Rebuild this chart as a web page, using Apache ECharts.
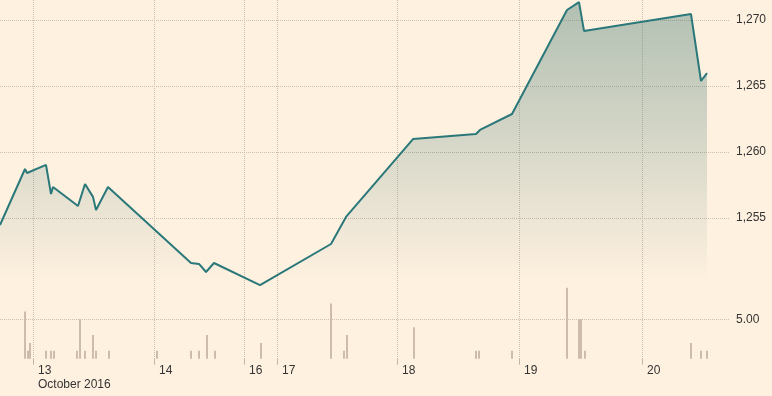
<!DOCTYPE html>
<html>
<head>
<meta charset="utf-8">
<script src="https://cdn.jsdelivr.net/npm/echarts@6/dist/echarts.min.js"></script>
<style>
html,body{margin:0;padding:0;background:#fff1e0;}
#chart{width:772px;height:396px;}
</style>
</head>
<body>
<div id="chart"></div>
<script>
// time index along the (compressed) trading-time axis
const priceTime = [0, 25, 27, 46, 51, 53, 78, 85, 93, 96, 108, 191, 199, 206, 214, 260, 331, 346, 413, 476, 480, 512, 567, 579, 584, 691, 701, 707];
const priceValues = [1254.47, 1258.71, 1258.41, 1259.02, 1256.82, 1257.35, 1255.91, 1257.58, 1256.6, 1255.6, 1257.35, 1251.59, 1251.52, 1250.91, 1251.59, 1249.92, 1253.03, 1255.08, 1260.98, 1261.36, 1261.67, 1262.88, 1270.76, 1271.36, 1269.17, 1270.45, 1265.38, 1265.98];

const volumeTime = [25, 28, 30, 46, 51, 54, 77, 80, 85, 93, 96, 109, 157, 191, 199, 207, 215, 261, 331, 344, 347, 414, 476, 479, 512, 567, 579, 581, 585, 691, 701, 707];
const volumeValues = [6, 1, 2, 1, 1, 1, 1, 5, 1, 3, 1, 1, 1, 1, 1, 3, 1, 2, 7, 1, 3, 4, 1, 1, 1, 9, 5, 5, 1, 2, 1, 1];

const dayTickTime = [33, 154, 244, 277, 397, 519, 642];
const dayTickLabels = ['13', '14', '16', '17', '18', '19', '20'];
const monthLabel = 'October 2016';

const priceTicks = [1255, 1260, 1265, 1270];
const volumeTicks = [5];

const BG = '#fff1e0';
const GRID = '#cdbfb0';
const TEXT = '#333333';
const FONT = "'Liberation Sans', Arial, sans-serif";

const priceData = priceTime.map((t, i) => [t, priceValues[i]]);
const volumeData = volumeTime.map((t, i) => [t, volumeValues[i]]);

function fmtComma(v) {
  return Math.round(v).toString().replace(/\B(?=(\d{3})+(?!\d))/g, ',');
}

const chart = echarts.init(document.getElementById('chart'), null, {renderer: 'canvas'});
chart.setOption({
  backgroundColor: BG,
  animation: false,
  textStyle: {fontFamily: FONT},
  grid: [
    {left: 0, right: 42, top: 0, height: 297.2},
    {left: 0, right: 42, top: 280, height: 78.7}
  ],
  xAxis: [
    {
      gridIndex: 0, type: 'value', min: 0, max: 730,
      axisLine: {show: false},
      axisTick: {show: false, customValues: dayTickTime},
      axisLabel: {show: false, customValues: dayTickTime},
      splitLine: {show: true, lineStyle: {color: GRID, type: [1, 1], width: 1}}
    },
    {
      gridIndex: 1, type: 'value', min: 0, max: 730,
      axisLine: {show: false},
      axisTick: {show: true, length: 6, customValues: dayTickTime, lineStyle: {color: '#c2b5a6'}},
      axisLabel: {
        show: true, customValues: dayTickTime,
        align: 'left', margin: 5, padding: [0, 0, 0, 5],
        color: TEXT, fontSize: 12, fontFamily: FONT, lineHeight: 14,
        formatter: function (v) {
          const i = dayTickTime.indexOf(Math.round(v));
          const lab = i >= 0 ? dayTickLabels[i] : '';
          return i === 0 ? lab + '\n' + monthLabel : lab;
        }
      },
      splitLine: {show: true, lineStyle: {color: GRID, type: [1, 1], width: 1}}
    }
  ],
  yAxis: [
    {
      gridIndex: 0, type: 'value', position: 'right',
      min: 1249, max: 1271.515,
      axisLine: {show: false},
      axisTick: {show: false, customValues: priceTicks},
      axisLabel: {
        customValues: priceTicks, margin: 6,
        color: TEXT, fontSize: 12, fontFamily: FONT,
        formatter: fmtComma
      },
      splitLine: {show: true, lineStyle: {color: GRID, type: [1, 1], width: 1}}
    },
    {
      gridIndex: 1, type: 'value', position: 'right',
      min: 0, max: 10,
      axisLine: {show: false},
      axisTick: {show: false, customValues: volumeTicks},
      axisLabel: {
        customValues: volumeTicks, margin: 6,
        color: TEXT, fontSize: 12, fontFamily: FONT,
        formatter: function (v) { return v.toFixed(2); }
      },
      splitLine: {show: true, lineStyle: {color: GRID, type: [1, 1], width: 1}}
    }
  ],
  series: [
    {
      type: 'bar', xAxisIndex: 1, yAxisIndex: 1,
      data: volumeData, barWidth: 2,
      itemStyle: {color: '#cdbcab'},
      silent: true
    },
    {
      type: 'line', xAxisIndex: 0, yAxisIndex: 0,
      data: priceData, symbol: 'none', showSymbol: false,
      lineStyle: {color: '#2a7879', width: 2},
      areaStyle: {
        color: {
          type: 'linear', x: 0, y: 0, x2: 0, y2: 285, global: true,
          colorStops: [
            {offset: 0, color: 'rgba(40,105,98,0.52)'},
            {offset: 0.5, color: 'rgba(40,105,98,0.27)'},
            {offset: 0.85, color: 'rgba(40,105,98,0.08)'},
            {offset: 1, color: 'rgba(40,105,98,0)'}
          ]
        }
      },
      silent: true
    }
  ]
});
</script>
</body>
</html>
